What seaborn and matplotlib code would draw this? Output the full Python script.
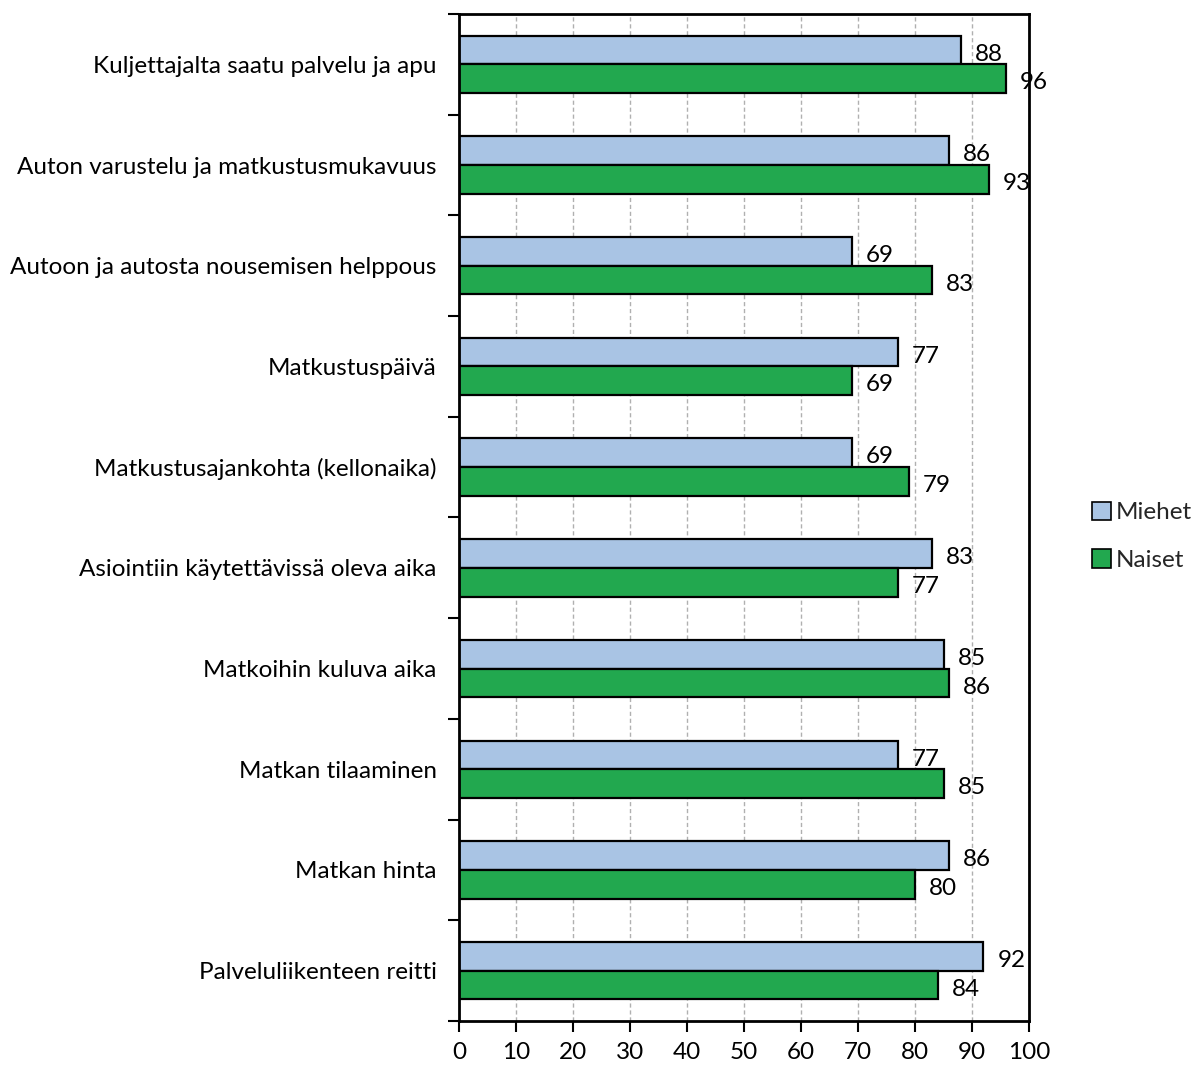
import matplotlib
matplotlib.use("Agg")
import matplotlib.pyplot as plt
import numpy as np
import pandas as pd
import seaborn as sns
from matplotlib.patches import Patch

categories = [
    "Kuljettajalta saatu palvelu ja apu",
    "Auton varustelu ja matkustusmukavuus",
    "Autoon ja autosta nousemisen helppous",
    "Matkustuspäivä",
    "Matkustusajankohta (kellonaika)",
    "Asiointiin käytettävissä oleva aika",
    "Matkoihin kuluva aika",
    "Matkan tilaaminen",
    "Matkan hinta",
    "Palveluliikenteen reitti",
]
miehet = [88, 86, 69, 77, 69, 83, 85, 77, 86, 92]
naiset = [96, 93, 83, 69, 79, 77, 86, 85, 80, 84]
series = ["Miehet", "Naiset"]
x_ticks = list(range(0, 101, 10))

df = pd.DataFrame({
    "Kategoria": categories * 2,
    "Arvo": miehet + naiset,
    "Ryhmä": ["Miehet"] * len(categories) + ["Naiset"] * len(categories),
})

sns.set_theme(style="white")
plt.rcParams["font.family"] = ["Lato", "DejaVu Sans"]

palette = {"Miehet": "#a9c4e4", "Naiset": "#22a84f"}

fig = plt.figure(figsize=(11.97, 10.66), dpi=100)
ax = fig.add_axes([0.3835, 0.0422, 0.4762, 0.9447])

sns.barplot(
    data=df, y="Kategoria", x="Arvo", hue="Ryhmä", order=categories,
    hue_order=series, palette=palette, orient="h", width=0.57,
    edgecolor="black", linewidth=1.6, saturation=1, ax=ax, legend=False,
)

ax.set_xlim(0, 100)
ax.set_ylim(len(categories) - 0.5, -0.5)
ax.set_xticks(x_ticks)
ax.set_xlabel("")
ax.set_ylabel("")

# value labels at the bar ends, nudged slightly downward
for cont in ax.containers:
    anns = ax.bar_label(cont, labels=[f"{v:.0f}" for v in cont.datavalues],
                        padding=10, fontsize=17.5, color="black")
    for a in anns:
        a.xyann = (10, -3)

# dashed vertical gridlines
ax.xaxis.grid(True, color="#b0b0b0", linestyle=(0, (3, 2)), linewidth=1.0)
ax.yaxis.grid(False)
ax.set_axisbelow(True)

for s in ax.spines.values():
    s.set_visible(True)
    s.set_color("black")
    s.set_linewidth(2)

# category separators as ticks on the left spine
ax.set_yticks(np.arange(-0.5, len(categories), 1.0), minor=True)
ax.tick_params(axis="y", which="major", length=0, pad=16, labelsize=17.5,
               colors="black")
ax.tick_params(axis="y", which="minor", left=True, length=8, width=1.5,
               color="black")
ax.tick_params(axis="x", which="major", bottom=True, length=8, width=1.5,
               color="black", labelsize=17.5, pad=7)
for lbl in ax.get_xticklabels() + ax.get_yticklabels():
    lbl.set_color("black")

handles = [Patch(facecolor=palette[s], edgecolor="black", linewidth=1.2, label=s)
           for s in series]
fig.legend(handles=handles, loc="center left", bbox_to_anchor=(0.902, 0.497),
           frameon=False, fontsize=17.5, handlelength=0.8, handleheight=0.8,
           handletextpad=0.2, labelspacing=1.05, borderpad=0)

fig.savefig("out.png", dpi=100)
